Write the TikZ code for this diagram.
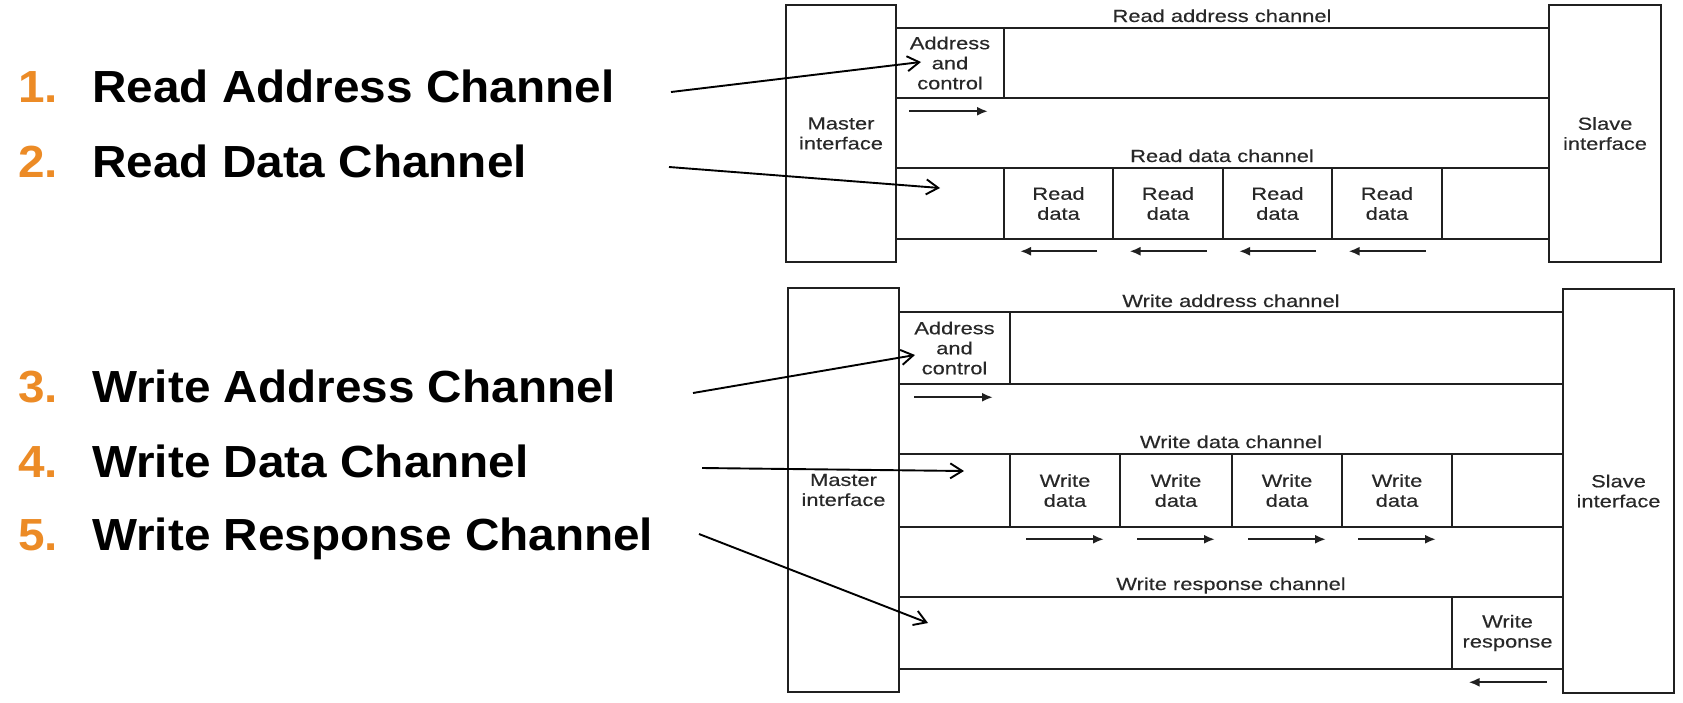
\documentclass[tikz,border=0pt]{standalone}
\usepackage{fontspec}
\setmainfont{Liberation Sans}
\newfontfamily\diagfont[FakeStretch=1.25,FakeBold=0.3]{Liberation Sans}
\newfontfamily\listfont[FakeStretch=1.06]{Liberation Sans}
\usetikzlibrary{arrows.meta}
\definecolor{numorange}{RGB}{236,139,38}
\definecolor{linegray}{RGB}{32,32,32}
\definecolor{textgray}{RGB}{40,40,40}
\begin{document}
\begin{tikzpicture}[x=1pt,y=-1pt,
  dfont/.style={font=\diagfont\fontsize{17.5}{20}\selectfont},
  iface/.style={draw=linegray, line width=2.9pt, inner sep=0pt, align=center, text=textgray, dfont},
  cell/.style={draw=linegray, line width=2.5pt, inner sep=0pt, align=center, text=textgray, dfont},
  chlabel/.style={anchor=base, text=textgray, dfont, inner sep=0pt},
  flow/.style={draw=linegray, line width=2.3pt, -{Latex[length=11pt,width=9pt]}},
  pointer/.style={draw=black, line width=1.9pt, -{Straight Barb[length=12pt,width=15pt]}},
  num/.style={anchor=base west, text=numorange, font=\listfont\bfseries\fontsize{45}{54}\selectfont, inner sep=0pt},
  item/.style={anchor=base west, text=black, font=\listfont\bfseries\fontsize{45}{54}\selectfont, inner sep=0pt},
]
\useasboundingbox (0,0) rectangle (1683,702);
\fill[white] (0,0) rectangle (1683,702);

% ---------- list on the left ----------
\node[num] (n1) at (18,102) {1.};
\node[item] (i1) at (92,102) {Read Address Channel};
\node[num] (n2) at (18,177) {2.};
\node[item] (i2) at (92,177) {Read Data Channel};
\node[num] (n3) at (18,402) {3.};
\node[item] (i3) at (92,402) {Write Address Channel};
\node[num] (n4) at (18,477) {4.};
\node[item] (i4) at (92,477) {Write Data Channel};
\node[num] (n5) at (18,550) {5.};
\node[item] (i5) at (92,550) {Write Response Channel};

% ---------- top diagram: read ----------
\node[cell, minimum width=108pt, minimum height=70pt] (ra1) at (950,63) {Address\\and\\control};
\node[cell, minimum width=545pt, minimum height=70pt] (ra2) at (1276.5,63) {};
\node[cell, minimum width=108pt, minimum height=71pt] (rd0) at (950,203.5) {};
\node[cell, minimum width=109pt, minimum height=71pt] (rd1) at (1058.5,203.5) {Read\\data};
\node[cell, minimum width=110pt, minimum height=71pt] (rd2) at (1168,203.5) {Read\\data};
\node[cell, minimum width=109pt, minimum height=71pt] (rd3) at (1277.5,203.5) {Read\\data};
\node[cell, minimum width=110pt, minimum height=71pt] (rd4) at (1387,203.5) {Read\\data};
\node[cell, minimum width=107pt, minimum height=71pt] (rd5) at (1495.5,203.5) {};
\node[iface, minimum width=110pt, minimum height=257pt] (M1) at (841,133.5) {Master\\interface};
\node[iface, minimum width=112pt, minimum height=257pt] (S1) at (1605,133.5) {Slave\\interface};
\node[chlabel] (lra) at (1222,22) {Read address channel};
\node[chlabel] (lrd) at (1222,162) {Read data channel};

\draw[flow] ([xshift=-41pt,yshift=-12pt]ra1.south) -- ([xshift=38pt,yshift=-12pt]ra1.south);
\foreach \c in {rd1,rd2,rd3,rd4}{
  \draw[flow] ([xshift=38.5pt,yshift=-11pt]\c.south) -- ([xshift=-38.5pt,yshift=-11pt]\c.south);
}

% ---------- bottom diagram: write ----------
\node[cell, minimum width=111pt, minimum height=72pt] (wa1) at (954.5,348) {Address\\and\\control};
\node[cell, minimum width=553pt, minimum height=72pt] (wa2) at (1286.5,348) {};
\node[cell, minimum width=111pt, minimum height=73pt] (wd0) at (954.5,490.5) {};
\node[cell, minimum width=110pt, minimum height=73pt] (wd1) at (1065,490.5) {Write\\data};
\node[cell, minimum width=112pt, minimum height=73pt] (wd2) at (1176,490.5) {Write\\data};
\node[cell, minimum width=110pt, minimum height=73pt] (wd3) at (1287,490.5) {Write\\data};
\node[cell, minimum width=110pt, minimum height=73pt] (wd4) at (1397,490.5) {Write\\data};
\node[cell, minimum width=111pt, minimum height=73pt] (wd5) at (1507.5,490.5) {};
\node[cell, minimum width=553pt, minimum height=72pt] (wr1) at (1175.5,633) {};
\node[cell, minimum width=111pt, minimum height=72pt] (wr2) at (1507.5,633) {Write\\response};
\node[iface, minimum width=111pt, minimum height=404pt] (M2) at (843.5,490) {Master\\interface};
\node[iface, minimum width=111pt, minimum height=404pt] (S2) at (1618.5,491) {Slave\\interface};
\node[chlabel] (lwa) at (1231,307) {Write address channel};
\node[chlabel] (lwd) at (1231,448) {Write data channel};
\node[chlabel] (lwr) at (1231,590) {Write response channel};

\draw[flow] ([xshift=-40.5pt,yshift=-12pt]wa1.south) -- ([xshift=38.5pt,yshift=-12pt]wa1.south);
\foreach \c in {wd1,wd2,wd3,wd4}{
  \draw[flow] ([xshift=-39pt,yshift=-11pt]\c.south) -- ([xshift=39pt,yshift=-11pt]\c.south);
}
\draw[flow] ([xshift=39pt,yshift=-12pt]wr2.south) -- ([xshift=-39pt,yshift=-12pt]wr2.south);

% ---------- pointers ----------
\coordinate (p1) at (671,92);  \coordinate (t1) at (921,62);
\coordinate (p2) at (669,167); \coordinate (t2) at (940,188);
\coordinate (p3) at (693,393); \coordinate (t3) at (915,355);
\coordinate (p4) at (702,468); \coordinate (t4) at (964,471);
\coordinate (p5) at (699,534); \coordinate (t5) at (928,623);
\draw[pointer] (p1) -- (t1);
\draw[pointer] (p2) -- (t2);
\draw[pointer] (p3) -- (t3);
\draw[pointer] (p4) -- (t4);
\draw[pointer] (p5) -- (t5);
\end{tikzpicture}
\end{document}
